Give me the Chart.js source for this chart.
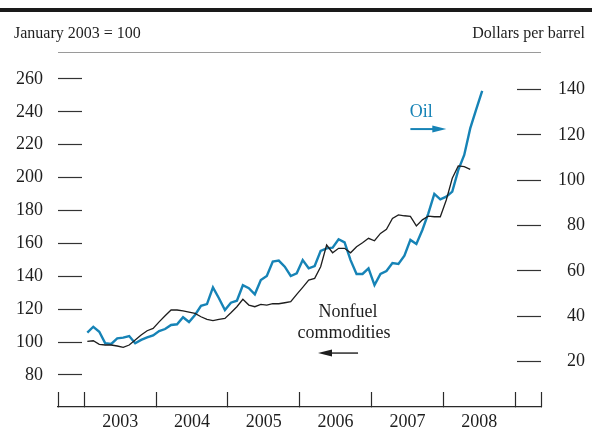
<!DOCTYPE html>
<html>
<head>
<meta charset="utf-8">
<script src="https://cdn.jsdelivr.net/npm/chart.js@4"></script>
<style>
html,body{margin:0;padding:0;background:#fff;}
#wrap{width:592px;height:435px;position:relative;}
</style>
</head>
<body>
<div id="wrap"><canvas id="c" width="592" height="435"></canvas></div>
<script>
// ---- data (monthly, starting January 2003) ----
const years = ['2003', '2004', '2005', '2006', '2007', '2008'];
const oilPrice = [
  32.8, 35.4, 33.2, 28.1, 27.8, 30.3, 30.6, 31.3, 28.1, 29.6, 30.7, 31.6,
  33.5, 34.4, 36.2, 36.5, 39.6, 37.5, 40.6, 44.6, 45.4, 52.8, 48.0, 42.8,
  46.0, 46.9, 53.7, 52.4, 49.7, 56.0, 57.8, 64.2, 64.6, 61.9, 57.8, 59.0,
  64.8, 61.2, 62.2, 68.9, 70.0, 70.3, 74.0, 72.6, 64.8, 58.7, 58.7, 61.2,
  53.8, 58.7, 60.0, 63.5, 63.1, 66.7, 73.7, 71.9, 78.1, 85.4, 94.0, 91.6,
  92.8, 95.0, 104.5, 111.2, 122.9, 131.3, 139.5
];
const nonfuelIndex = [
  100.4, 100.8, 98.6, 98.2, 98.2, 97.6, 96.8, 98.2, 101.2, 104.3, 106.9, 108.3,
  112.3, 116.0, 119.5, 119.5, 118.9, 118.2, 117.4, 115.4, 113.8, 113.0, 113.8, 114.4,
  117.8, 121.5, 126.0, 122.5, 121.5, 122.9, 122.5, 123.3, 123.3, 123.9, 124.5, 129.0,
  133.3, 137.7, 138.7, 145.8, 159.0, 154.3, 157.0, 157.0, 154.3, 158.0, 160.4, 163.1,
  161.6, 166.1, 168.6, 175.2, 177.3, 176.8, 176.4, 170.6, 174.3, 176.6, 176.2, 176.2,
  186.4, 199.6, 207.1, 206.7, 205.0
];
const leftTicks = [80, 100, 120, 140, 160, 180, 200, 220, 240, 260];
const rightTicks = [20, 40, 60, 80, 100, 120, 140];

// ---- styling / layout ----
const OIL_BLUE = '#1683b6';
const INK = '#1e1e1e';
const SERIF = '"Liberation Serif", "Times New Roman", serif';
const X_MIN = -4.40, X_MAX = 76.33;
const LEFT_MIN = 60.5, LEFT_MAX = 276.4;
const RIGHT_MIN = 0, RIGHT_MAX = 156.6;

const toPts = arr => arr.map((v, i) => ({ x: i + 0.5, y: v }));
const xTickVals = [X_MIN];
for (let m = 0; m <= 72; m += 6) xTickVals.push(m);
xTickVals.push(X_MAX);

const noPad = s => { s.paddingTop = 0; s.paddingBottom = 0; s.paddingLeft = 0; s.paddingRight = 0; };

const decor = {
  id: 'decor',
  afterDraw(chart) {
    const ctx = chart.ctx;
    const ca = chart.chartArea;
    const xs = chart.scales.x, yl = chart.scales.y, yr = chart.scales.y2;
    ctx.save();
    // top rule
    ctx.fillStyle = '#1a1a1a';
    ctx.fillRect(0, 8, chart.width, 4);
    // thin line at top of plot
    ctx.strokeStyle = '#9a9a9a';
    ctx.lineWidth = 1;
    ctx.beginPath();
    ctx.moveTo(ca.left, Math.round(ca.top) + 0.5);
    ctx.lineTo(ca.right, Math.round(ca.top) + 0.5);
    ctx.stroke();
    // header texts
    ctx.fillStyle = INK;
    ctx.font = '16px ' + SERIF;
    ctx.textBaseline = 'alphabetic';
    ctx.textAlign = 'left';
    ctx.fillText('January 2003 = 100', 14, 38);
    ctx.textAlign = 'right';
    ctx.fillText('Dollars per barrel', 585, 38);

    // Oil annotation
    ctx.font = '18px ' + SERIF;
    ctx.textAlign = 'center';
    ctx.fillStyle = OIL_BLUE;
    ctx.fillText('Oil', xs.getPixelForValue(56.3), yr.getPixelForValue(127.9));
    const oy = yr.getPixelForValue(122.6);
    const ox1 = xs.getPixelForValue(54.5), ox2 = xs.getPixelForValue(60.5);
    ctx.strokeStyle = OIL_BLUE;
    ctx.lineWidth = 2;
    ctx.beginPath();
    ctx.moveTo(ox1, oy);
    ctx.lineTo(ox2 - 10, oy);
    ctx.stroke();
    ctx.beginPath();
    ctx.moveTo(ox2, oy);
    ctx.lineTo(ox2 - 14, oy - 3.5);
    ctx.lineTo(ox2 - 14, oy + 3.5);
    ctx.closePath();
    ctx.fill();

    // Nonfuel commodities annotation
    ctx.fillStyle = INK;
    ctx.fillText('Nonfuel', xs.getPixelForValue(44.07), yl.getPixelForValue(115.2));
    ctx.fillText('commodities', xs.getPixelForValue(43.4), yl.getPixelForValue(102.4));
    const ny = yl.getPixelForValue(93.3);
    const nx1 = xs.getPixelForValue(45.75), nx2 = xs.getPixelForValue(39.06);
    ctx.strokeStyle = INK;
    ctx.lineWidth = 1.4;
    ctx.beginPath();
    ctx.moveTo(nx1, ny);
    ctx.lineTo(nx2 + 10, ny);
    ctx.stroke();
    ctx.beginPath();
    ctx.moveTo(nx2, ny);
    ctx.lineTo(nx2 + 14, ny - 3.5);
    ctx.lineTo(nx2 + 14, ny + 3.5);
    ctx.closePath();
    ctx.fill();
    ctx.restore();
  }
};

new Chart(document.getElementById('c'), {
  type: 'line',
  data: {
    datasets: [
      {
        label: 'Nonfuel commodities',
        data: toPts(nonfuelIndex),
        yAxisID: 'y',
        borderColor: INK,
        borderWidth: 1.3,
        pointRadius: 0,
        tension: 0,
        fill: false
      },
      {
        label: 'Oil',
        data: toPts(oilPrice),
        yAxisID: 'y2',
        borderColor: OIL_BLUE,
        borderWidth: 2.4,
        pointRadius: 0,
        tension: 0,
        fill: false
      }
    ]
  },
  options: {
    responsive: false,
    animation: false,
    devicePixelRatio: 1,
    layout: { padding: { top: 52, right: 7, left: 0, bottom: 0 } },
    plugins: { legend: { display: false }, tooltip: { enabled: false } },
    scales: {
      x: {
        type: 'linear',
        position: 'bottom',
        min: X_MIN,
        max: X_MAX,
        afterBuildTicks: s => { s.ticks = xTickVals.map(v => ({ value: v })); },
        afterFit: s => { s.height = 28; noPad(s); },
        grid: {
          drawOnChartArea: false,
          drawTicks: true,
          tickLength: -15,
          tickWidth: 1.2,
          tickColor: c => (c.tick && Math.abs(c.tick.value % 12) === 6) ? 'rgba(0,0,0,0)' : '#2a2a2a'
        },
        border: { display: true, color: '#2a2a2a', width: 1.3 },
        ticks: {
          autoSkip: false,
          maxRotation: 0,
          padding: 19,
          color: INK,
          font: { family: SERIF, size: 18 },
          callback: v => (v % 12 === 6) ? years[(v - 6) / 12] : ''
        }
      },
      y: {
        type: 'linear',
        position: 'left',
        min: LEFT_MIN,
        max: LEFT_MAX,
        afterBuildTicks: s => { s.ticks = leftTicks.map(v => ({ value: v })); },
        afterFit: s => { s.width = 58; noPad(s); },
        grid: { drawOnChartArea: false, drawTicks: true, tickLength: -24, tickWidth: 1.2, tickColor: '#333' },
        border: { display: false },
        ticks: { padding: 39, crossAlign: 'near', color: INK, font: { family: SERIF, size: 18 } }
      },
      y2: {
        type: 'linear',
        position: 'right',
        min: RIGHT_MIN,
        max: RIGHT_MAX,
        afterBuildTicks: s => { s.ticks = rightTicks.map(v => ({ value: v })); },
        afterFit: s => { s.width = 44; noPad(s); },
        grid: { drawOnChartArea: false, drawTicks: true, tickLength: -24, tickWidth: 1.2, tickColor: '#333' },
        border: { display: false },
        ticks: { padding: 41, crossAlign: 'far', color: INK, font: { family: SERIF, size: 18 } }
      }
    }
  },
  plugins: [decor]
});
</script>
</body>
</html>
